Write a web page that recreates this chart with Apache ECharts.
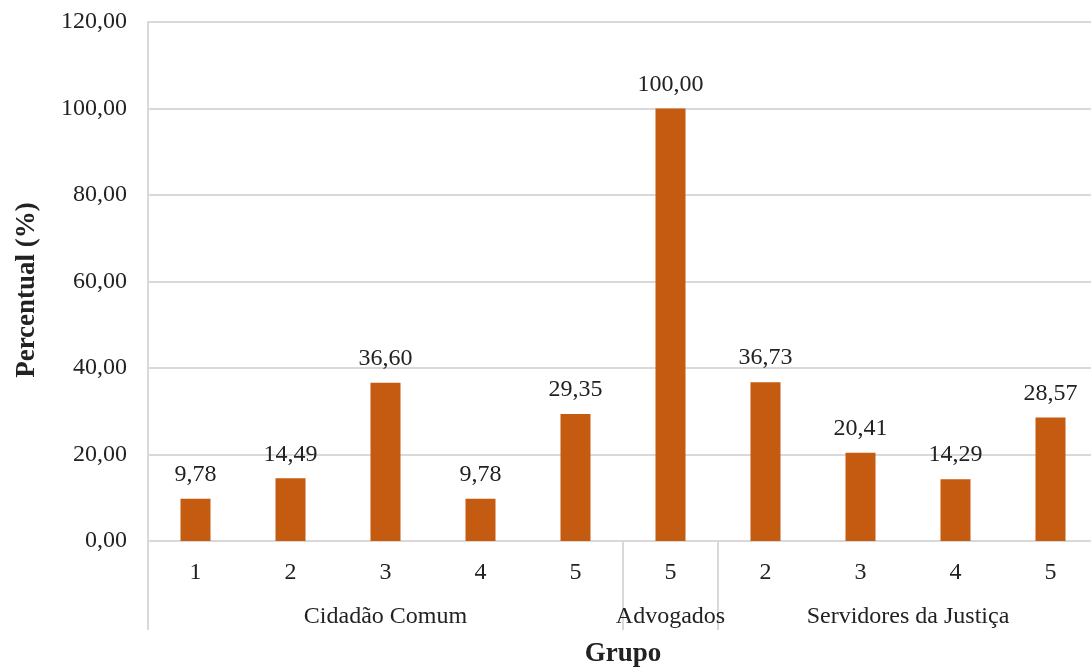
<!DOCTYPE html>
<html>
<head>
<meta charset="utf-8">
<script src="https://cdn.jsdelivr.net/npm/echarts@6/dist/echarts.min.js"></script>
<style>
  html, body { margin: 0; padding: 0; background: #ffffff; }
  #chart { width: 1091px; height: 667px; }
</style>
</head>
<body>
<div id="chart"></div>
<script>
// Sub-category labels along the x axis (one per bar)
const subLabels = ['1', '2', '3', '4', '5', '5', '2', '3', '4', '5'];
// Groups and how many bars each spans
const groupNames = ['Cidadão Comum', 'Advogados', 'Servidores da Justiça'];
const groupSizes = [5, 1, 4];
// Percent values per bar
const values = [9.78, 14.49, 36.60, 9.78, 29.35, 100.00, 36.73, 20.41, 14.29, 28.57];
// Y axis scale
const yMin = 0, yMax = 120, yStep = 20;

const FONT = 'Liberation Serif';
const GRID_COLOR = '#d9d9d9';
const TEXT_COLOR = '#222222';
const BAR_COLOR = '#C55A11';

const fmt = v => Number(v).toFixed(2).replace('.', ',');

// Group boundaries and midpoints on a 0..N linear scale matching the category bands
const boundaries = [0];
const midpoints = [];
groupSizes.forEach((n, i) => {
  const start = boundaries[boundaries.length - 1];
  midpoints.push(start + n / 2);
  boundaries.push(start + n);
});
const total = boundaries[boundaries.length - 1];

const chart = echarts.init(document.getElementById('chart'), null, { renderer: 'canvas' });

chart.setOption({
  backgroundColor: '#ffffff',
  animation: false,
  textStyle: { fontFamily: FONT },
  grid: { left: 148, top: 22, width: 950, height: 519, containLabel: false, outerBoundsMode: 'none' },
  xAxis: [
    {
      type: 'category',
      data: subLabels,
      position: 'bottom',
      axisLine: { show: true, lineStyle: { color: GRID_COLOR, width: 2 } },
      axisTick: { show: false },
      axisLabel: { color: TEXT_COLOR, fontFamily: FONT, fontSize: 24, margin: 20, interval: 0 },
      name: 'Grupo',
      nameLocation: 'middle',
      nameGap: 100,
      nameTextStyle: { color: TEXT_COLOR, fontFamily: FONT, fontSize: 27, fontWeight: 'bold' }
    },
    {
      type: 'value',
      position: 'bottom',
      min: 0,
      max: total,
      axisLine: { show: false },
      splitLine: { show: false },
      axisTick: {
        show: true,
        customValues: boundaries,
        length: 89,
        lineStyle: { color: GRID_COLOR, width: 2 }
      },
      axisLabel: {
        customValues: midpoints,
        formatter: v => {
          const i = midpoints.findIndex(m => Math.abs(m - v) < 1e-6);
          return i >= 0 ? groupNames[i] : '';
        },
        color: TEXT_COLOR,
        fontFamily: FONT,
        fontSize: 24,
        margin: 64,
        hideOverlap: false
      }
    }
  ],
  yAxis: {
    type: 'value',
    min: yMin,
    max: yMax,
    interval: yStep,
    axisLine: { show: true, lineStyle: { color: GRID_COLOR, width: 2 } },
    axisTick: { show: false },
    splitLine: { show: true, lineStyle: { color: GRID_COLOR, width: 2 } },
    axisLabel: { color: TEXT_COLOR, fontFamily: FONT, fontSize: 24, margin: 21, formatter: fmt }
  },
  graphic: [
    {
      type: 'text',
      x: 27,
      y: 290,
      rotation: Math.PI / 2,
      style: {
        text: 'Percentual (%)',
        fill: TEXT_COLOR,
        font: 'bold 27px "Liberation Serif"',
        textAlign: 'center',
        textVerticalAlign: 'middle'
      }
    }
  ],
  series: [
    {
      type: 'bar',
      xAxisIndex: 0,
      data: values,
      barWidth: 30,
      itemStyle: { color: BAR_COLOR },
      label: {
        show: true,
        position: 'top',
        distance: 12,
        color: TEXT_COLOR,
        fontFamily: FONT,
        fontSize: 24,
        formatter: p => fmt(p.value)
      }
    }
  ]
});
</script>
</body>
</html>
